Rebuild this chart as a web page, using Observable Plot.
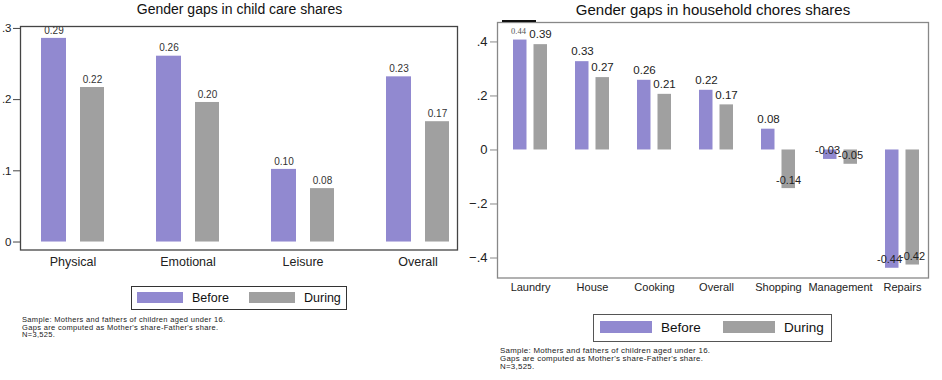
<!DOCTYPE html>
<html><head><meta charset="utf-8">
<script src="https://cdn.jsdelivr.net/npm/d3@7"></script>
<script src="https://cdn.jsdelivr.net/npm/@observablehq/plot@0.6"></script>
<style>
body{margin:0;background:#fff;font-family:"Liberation Sans",Arial,sans-serif;}
#root{position:relative;width:942px;height:380px;overflow:hidden;background:#fff;}
.abs{position:absolute;white-space:nowrap;color:#111;box-sizing:border-box;}
.title{transform:translateX(-50%);}
</style></head>
<body><div id="root"></div>
<script>
// ---- data ----
const seriesNames = ["Before", "During"];
const seriesColors = ["#9189d0", "#a0a0a0"];

const careCategories = ["Physical", "Emotional", "Leisure", "Overall"];
const careBefore = [0.286, 0.261, 0.102, 0.232];
const careDuring = [0.217, 0.196, 0.075, 0.169];
const careBeforeLabels = ["0.29", "0.26", "0.10", "0.23"];
const careDuringLabels = ["0.22", "0.20", "0.08", "0.17"];
const careTicks = [0, 0.1, 0.2, 0.3];

const choresCategories = ["Laundry", "House", "Cooking", "Overall", "Shopping", "Management", "Repairs"];
const choresBefore = [0.407, 0.327, 0.258, 0.221, 0.077, -0.035, -0.438];
const choresDuring = [0.390, 0.268, 0.206, 0.167, -0.143, -0.053, -0.426];
const choresBeforeLabels = ["0.44", "0.33", "0.26", "0.22", "0.08", "-0.03", "-0.44"];
const choresDuringLabels = ["0.39", "0.27", "0.21", "0.17", "-0.14", "-0.05", "-0.42"];
const choresTicks = [-0.4, -0.2, 0, 0.2, 0.4];

const noteLines = ["Sample: Mothers and fathers of children aged under 16.",
  "Gaps are computed as Mother's share-Father's share.", "N=3,525."];

// ---- helpers ----
const fmt = d => d === 0 ? "0" : d3.format(".1f")(d).replace("0.", ".");
function rows(cats, vals, labels, series) {
  return cats.map((c, i) => ({cat: c, value: vals[i], label: labels[i], series, idx: i}));
}
const root = document.getElementById("root");
function place(el, left, top) { el.style.position = "absolute"; el.style.left = left + "px"; el.style.top = top + "px"; root.appendChild(el); }
function div(text, cls, css) { const d = document.createElement("div"); d.className = "abs " + (cls || ""); d.textContent = text; Object.assign(d.style, css); root.appendChild(d); return d; }

// ---- left panel ----
const cb = rows(careCategories, careBefore, careBeforeLabels, seriesNames[0]);
const cd = rows(careCategories, careDuring, careDuringLabels, seriesNames[1]);
const left = Plot.plot({
  width: 470, height: 255,
  marginLeft: 20, marginRight: 13, marginTop: 6, marginBottom: 25.5,
  style: {fontFamily: "Liberation Sans, Arial, sans-serif", background: "transparent", overflow: "visible", color: "#222"},
  x: {domain: careCategories, paddingInner: 0.453, paddingOuter: 0.124, align: 0.737, label: null},
  y: {domain: [-0.0112, 0.3027], label: null},
  marks: [
    Plot.barY(cb, {x: "cat", y: "value", fill: seriesColors[0], insetRight: 38}),
    Plot.barY(cd, {x: "cat", y: "value", fill: seriesColors[1], insetLeft: 39}),
    Plot.text(cb, {x: "cat", y: "value", text: "label", dx: -19, dy: -8, fontSize: 10, fill: "#333"}),
    Plot.text(cd, {x: "cat", y: "value", text: "label", dx: 19.5, dy: -8, fontSize: 10, fill: "#333"}),
    Plot.frame({stroke: "#444", strokeWidth: 1.3}),
    Plot.axisY({ticks: careTicks, tickFormat: fmt, tickSize: 7, tickPadding: 2, fontSize: 11.5, stroke: "#444", label: null}),
    Plot.axisX({tickSize: 0, tickPadding: 7, fontSize: 12.5, label: null})
  ]
});
place(left, 0, 20);

// ---- right panel ----
const hb = rows(choresCategories, choresBefore, choresBeforeLabels, seriesNames[0]);
const hd = rows(choresCategories, choresDuring, choresDuringLabels, seriesNames[1]);
const right = Plot.plot({
  width: 472, height: 290,
  marginLeft: 27, marginRight: 14, marginTop: 10, marginBottom: 24.5,
  style: {fontFamily: "Liberation Sans, Arial, sans-serif", background: "transparent", overflow: "visible", color: "#222"},
  x: {domain: choresCategories, paddingInner: 0.452, paddingOuter: 0.197, align: 0.653, label: null},
  y: {domain: [-0.474, 0.472], label: null},
  marks: [
    Plot.barY(hb, {x: "cat", y: "value", fill: seriesColors[0], insetRight: 20.5}),
    Plot.barY(hd, {x: "cat", y: "value", fill: seriesColors[1], insetLeft: 20.5}),
    Plot.text(hb.filter(d => d.value >= 0 && d.idx > 0), {x: "cat", y: "value", text: "label", dx: -10, dy: -10, fontSize: 11.5, fill: "#222"}),
    Plot.text(hb.filter(d => d.idx === 0), {x: "cat", y: "value", text: "label", dx: -12, dy: -9, fontSize: 8.5, fill: "#555", fontFamily: "Liberation Serif, serif"}),
    Plot.text(hb.filter(d => d.value < 0), {x: "cat", y: "value", text: "label", dx: -13, dy: -8.5, fontSize: 11, fill: "#222"}),
    Plot.text(hd.filter(d => d.value >= 0), {x: "cat", y: "value", text: "label", dx: 10, dy: -10, fontSize: 11.5, fill: "#222"}),
    Plot.text(hd.filter(d => d.value < 0), {x: "cat", y: "value", text: "label", dx: 10, dy: -8.5, fontSize: 11, fill: "#222"}),
    Plot.frame({stroke: "#888", strokeWidth: 1.3}),
    Plot.axisY({ticks: choresTicks, tickFormat: fmt, tickSize: 7, tickPadding: 3, fontSize: 13, stroke: "#888", label: null}),
    Plot.axisX({tickSize: 0, tickPadding: 5, fontSize: 11, label: null})
  ]
});
place(right, 470, 12);
// stray dark stroke on the right frame's top edge, as in the source image
div("", "", {left: "502px", top: "20px", width: "34px", height: "2px", background: "#111"});

// ---- titles ----
div("Gender gaps in child care shares", "title", {left: "239.5px", top: "0px", fontSize: "14px", lineHeight: "19px"});
div("Gender gaps in household chores shares", "title", {left: "713px", top: "0px", fontSize: "15px", lineHeight: "20px"});

// ---- legends ----
function legend(box, sw, txt, fontSize, border) {
  div("", "", {left: box[0] + "px", top: box[1] + "px", width: box[2] + "px", height: box[3] + "px", border: border});
  seriesNames.forEach((name, i) => {
    div("", "", {left: sw[i][0] + "px", top: sw[i][1] + "px", width: sw[i][2] + "px", height: sw[i][3] + "px", background: seriesColors[i]});
    div(name, "", {left: txt[i][0] + "px", top: txt[i][1] + "px", fontSize: fontSize + "px", lineHeight: "16px"});
  });
}
legend([131, 286, 216, 24], [[137, 292, 46, 11], [249, 292, 46, 11]], [[192, 289.5], [304, 289.5]], 12.5, "1.5px solid #333");
legend([593, 314, 239, 28], [[600, 321, 52, 12], [723, 321, 52, 12]], [[661, 320], [784, 320]], 13.5, "1.3px solid #555");

// ---- notes ----
function notes(x, y, fs, lh, ls) {
  noteLines.forEach((t, i) => div(t, "", {left: x + "px", top: (y + i * lh) + "px", fontSize: fs + "px", lineHeight: lh + "px", letterSpacing: ls + "px", color: "#222"}));
}
notes(22, 316.2, 7.5, 7.6, 0.33);
notes(500, 347, 7.9, 8, 0.28);
</script></body></html>
